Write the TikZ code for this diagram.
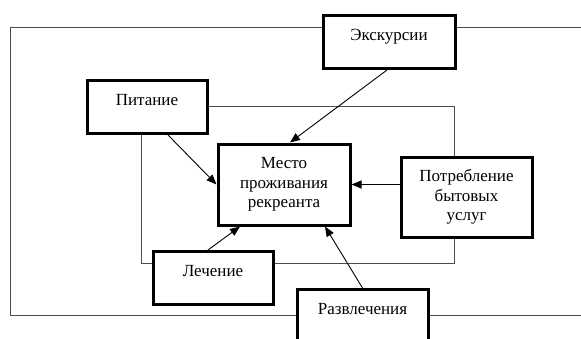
\documentclass[tikz,border=0pt]{standalone}
\usepackage{fontspec}
\setmainfont{Liberation Serif}
\usetikzlibrary{arrows.meta,calc}
\begin{document}
\begin{tikzpicture}[x=1pt,y=-1pt,
  box/.style={draw,line width=3pt,fill=white,inner sep=0pt,font=\fontsize{17}{19.5}\selectfont},
  topbox/.style={box,anchor=north,text height=25pt,text depth=28pt},
  midbox/.style={box,align=center},
  frame/.style={draw=black!70,line width=0.9pt},
  arr/.style={line width=0.9pt,-{Triangle[length=10pt,width=8pt]}}]
\useasboundingbox (0,0) rectangle (581,338);
\clip (0,0) rectangle (581,338);
% frames
\draw[frame] (600,27) -- (10,27) -- (10,315) -- (600,315);
\draw[frame] (141.7,106) rectangle (454,263);
% boxes
\node[topbox,minimum width=132pt] (exc) at (389,14) {Экскурсии};
\node[topbox,minimum width=120pt] (pit) at (147,79) {Питание};
\node[topbox,minimum width=120pt] (lech) at (213,250) {Лечение};
\node[topbox,minimum width=131pt,text depth=60pt] (razv) at (362.5,288) {Развлечения};
\node[midbox,minimum width=132pt,minimum height=81pt] (mesto) at (284,184.5) {Место\\проживания\\рекреанта};
\node[midbox,minimum width=131pt,minimum height=80pt] (potr) at (466.5,197) {Потребление\\бытовых\\услуг};
% arrows
\draw[arr] ([xshift=-2pt]exc.south) -- ([xshift=6pt]mesto.north);
\draw[arr] ([xshift=21pt]pit.south) -- (mesto.west);
\draw[arr] ([xshift=-5pt]lech.north) -- ([xshift=-44pt]mesto.south);
\draw[arr] (potr.west |- mesto.east) -- (mesto.east);
\draw[arr] (razv.north) -- ([xshift=41pt]mesto.south);
\end{tikzpicture}
\end{document}
